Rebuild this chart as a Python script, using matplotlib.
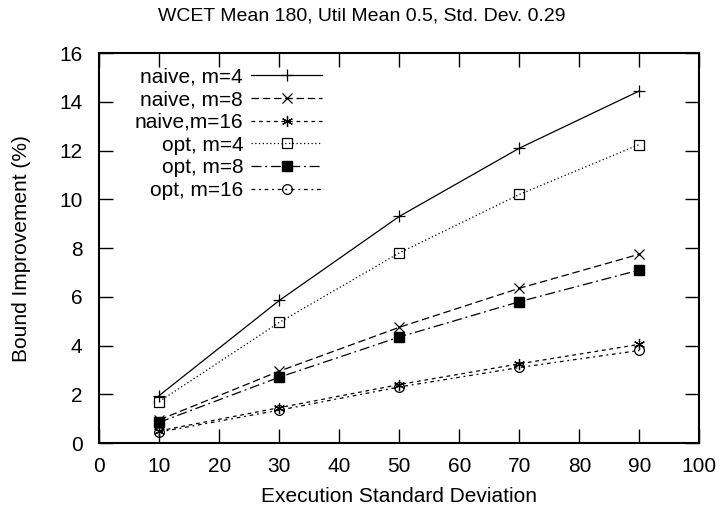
import matplotlib
matplotlib.use("Agg")
import matplotlib.pyplot as plt

plt.rcParams['font.family'] = ['Liberation Sans', 'DejaVu Sans']

x = [10, 30, 50, 70, 90]
naive_m4 = [1.95, 5.85, 9.3, 12.1, 14.45]
naive_m8 = [0.95, 2.95, 4.75, 6.35, 7.75]
naive_m16 = [0.5, 1.45, 2.4, 3.25, 4.05]
opt_m4 = [1.7, 4.95, 7.8, 10.2, 12.25]
opt_m8 = [0.85, 2.7, 4.35, 5.8, 7.1]
opt_m16 = [0.45, 1.35, 2.3, 3.1, 3.8]

fig = plt.figure(figsize=(7.24, 5.11), dpi=100)
ax = fig.add_axes([0.137, 0.133, 0.829, 0.763])

lw = 0.9
ax.plot(x, naive_m4, color='black', lw=lw, ls='-', marker='+', ms=8, mew=0.9,
        label='naive, m=4')
ax.plot(x, naive_m8, color='black', lw=lw, ls=(0, (6, 3)), marker='x', ms=7, mew=0.9,
        label='naive, m=8')
ax.plot(x, naive_m16, color='black', lw=lw, ls=(0, (3, 3)), marker=(6, 2, 0), ms=8, mew=0.9,
        label='naive,m=16')
ax.plot(x, opt_m4, color='black', lw=lw, ls=(0, (1, 2)), marker='s', ms=7, mew=0.9,
        mfc='none', label='opt, m=4')
ax.plot(x, opt_m8, color='black', lw=lw, ls=(0, (8, 3, 1.5, 3)), marker='s', ms=7,
        mfc='black', label='opt, m=8')
ax.plot(x, opt_m16, color='black', lw=lw, ls=(0, (3, 3, 1.5, 3)), marker='o', ms=7, mew=0.9,
        mfc='none', label='opt, m=16')

ax.set_xlim(0, 100)
ax.set_ylim(0, 16)
ax.set_xticks(range(0, 101, 10))
ax.set_yticks(range(0, 17, 2))
ax.tick_params(direction='in', top=True, right=True, length=10, width=1,
               labelsize=15)
ax.tick_params(axis='x', pad=10)
ax.tick_params(axis='y', pad=12)
for s in ax.spines.values():
    s.set_linewidth(1.5)

ax.set_xlabel('Execution Standard Deviation', fontsize=15, labelpad=8)
ax.set_ylabel('Bound Improvement (%)', fontsize=15, labelpad=20)
fig.text(0.5, 1 - 16 / 511, 'WCET Mean 180, Util Mean 0.5, Std. Dev. 0.29',
         fontsize=14, ha='center', va='center')

ax.legend(loc='upper left', bbox_to_anchor=(0.045, 0.985), frameon=False, fontsize=15,
          markerfirst=False, handlelength=3.4, handletextpad=0.4, labelspacing=0.18,
          borderaxespad=0)

fig.savefig('out.png', dpi=100)
